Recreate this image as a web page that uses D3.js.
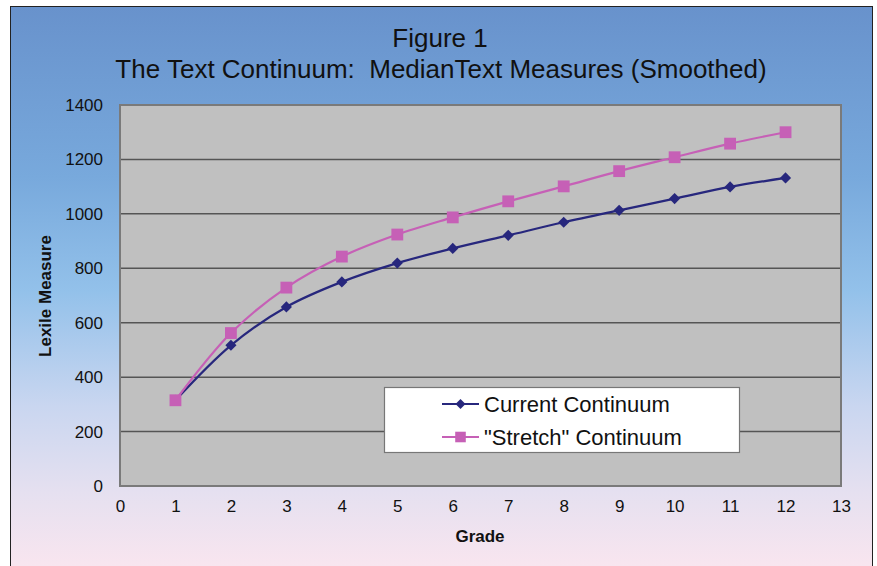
<!DOCTYPE html>
<html><head><meta charset="utf-8">
<script src="https://cdn.jsdelivr.net/npm/d3@7"></script>
<style>html,body{margin:0;padding:0;background:#fff;}svg{display:block;font-family:"Liberation Sans",Arial,sans-serif;}</style>
</head><body><div id="chart"></div>
<script>
const grades = [1,2,3,4,5,6,7,8,9,10,11,12];
const currentContinuum = [315,517,658,750,819,873,921,969,1013,1056,1099,1132];
const stretchContinuum = [315,562,729,843,924,987,1046,1101,1157,1208,1258,1300];
const xTicks = [0,1,2,3,4,5,6,7,8,9,10,11,12,13];
const yTicks = [0,200,400,600,800,1000,1200,1400];
const titleLines = ["Figure 1","The Text Continuum:  MedianText Measures (Smoothed)"];
const seriesNames = ["Current Continuum","\"Stretch\" Continuum"];

const W=877,H=566;
const svg=d3.select("#chart").append("svg").attr("width",W).attr("height",H);
const defs=svg.append("defs");
const g=defs.append("linearGradient").attr("id","bg").attr("x1",0).attr("y1",0).attr("x2",0).attr("y2",1);
[[0,"#6892cc"],[0.3,"#78a9dc"],[0.5,"#93c1ea"],[0.7,"#c9d6f0"],[0.85,"#e5e0f0"],[1,"#fbe6ef"]].forEach(s=>g.append("stop").attr("offset",s[0]).attr("stop-color",s[1]));

svg.append("rect").attr("x",10.5).attr("y",6.5).attr("width",862).attr("height",570).attr("fill","url(#bg)").attr("stroke","#222").attr("stroke-width",1);

const m={l:120,r:841,t:105,b:486};
const x=d3.scaleLinear().domain([0,13]).range([m.l,m.r]);
const y=d3.scaleLinear().domain([0,1400]).range([m.b,m.t]);

svg.append("rect").attr("x",m.l).attr("y",m.t).attr("width",m.r-m.l).attr("height",m.b-m.t).attr("fill","#c0c0c0");

svg.append("g").selectAll("line").data(yTicks.filter(d=>d>0&&d<1400)).join("line")
  .attr("x1",m.l).attr("x2",m.r).attr("y1",d=>y(d)).attr("y2",d=>y(d))
  .attr("stroke","#555").attr("stroke-width",1.5);

svg.append("rect").attr("x",m.l).attr("y",m.t).attr("width",m.r-m.l).attr("height",m.b-m.t).attr("fill","none").attr("stroke","#7a7a7a").attr("stroke-width",2);

const yAxis=svg.append("g").attr("transform",`translate(${m.l},0)`).call(d3.axisLeft(y).tickValues(yTicks).tickFormat(d3.format("d")).tickSize(0).tickPadding(17));
yAxis.select(".domain").remove();
yAxis.selectAll("text").attr("font-size",17).attr("fill","#111").attr("font-family","Liberation Sans, Arial, sans-serif");
const xAxis=svg.append("g").attr("transform",`translate(0,${m.b})`).call(d3.axisBottom(x).tickValues(xTicks).tickFormat(d3.format("d")).tickSize(0).tickPadding(14));
xAxis.select(".domain").remove();
xAxis.selectAll("text").attr("font-size",17).attr("fill","#111").attr("font-family","Liberation Sans, Arial, sans-serif");

svg.append("text").attr("x",440).attr("y",47).attr("text-anchor","middle").attr("font-size",26).attr("fill","#111").text(titleLines[0]);
svg.append("text").attr("x",441).attr("y",78).attr("text-anchor","middle").attr("font-size",26).attr("fill","#111").text(titleLines[1]).style("white-space","pre");
svg.append("text").attr("x",480).attr("y",542).attr("text-anchor","middle").attr("font-size",17).attr("font-weight","bold").attr("fill","#111").text("Grade");
svg.append("text").attr("transform","translate(51,296) rotate(-90)").attr("text-anchor","middle").attr("font-size",17).attr("font-weight","bold").attr("fill","#111").text("Lexile Measure");

const line=d3.line().x(d=>x(d[0])).y(d=>y(d[1])).curve(d3.curveCatmullRom.alpha(0.5));
const series=[
  {name:seriesNames[0],vals:currentContinuum,color:"#27277d",sym:d3.symbolSquare,size:62,rot:45},
  {name:seriesNames[1],vals:stretchContinuum,color:"#c660b6",sym:d3.symbolSquare,size:140,rot:0}
];
series.forEach(s=>{
  const pts=grades.map((gr,i)=>[gr,s.vals[i]]);
  svg.append("path").datum(pts).attr("d",line).attr("fill","none").attr("stroke",s.color).attr("stroke-width",2.2);
  svg.append("g").selectAll("path").data(pts).join("path")
    .attr("transform",d=>`translate(${x(d[0])},${y(d[1])}) rotate(${s.rot})`)
    .attr("d",d3.symbol().type(s.sym).size(s.size)).attr("fill",s.color);
});

const lg=svg.append("g");
lg.append("rect").attr("x",384.5).attr("y",387.5).attr("width",355).attr("height",65).attr("fill","#fff").attr("stroke","#777").attr("stroke-width",1.2);
series.forEach((s,i)=>{
  const cy=404+i*33;
  lg.append("line").attr("x1",442).attr("x2",479).attr("y1",cy).attr("y2",cy).attr("stroke",s.color).attr("stroke-width",2);
  lg.append("path").attr("transform",`translate(460.5,${cy}) rotate(${s.rot})`).attr("d",d3.symbol().type(s.sym).size(s.size*0.8)).attr("fill",s.color);
  lg.append("text").attr("x",484).attr("y",cy+8).attr("font-size",22).attr("fill","#111").text(s.name);
});
</script></body></html>
